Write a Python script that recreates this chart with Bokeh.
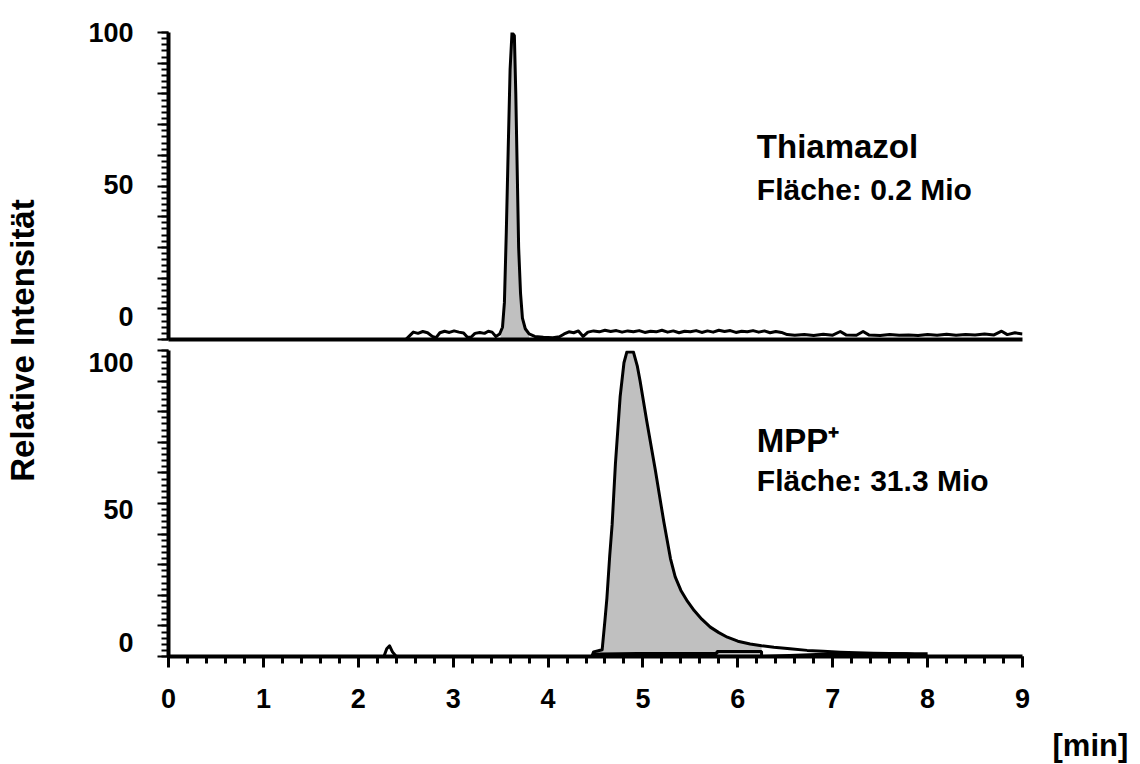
import numpy as np
from bokeh.plotting import figure
from bokeh.models import Range1d, FixedTicker, Label, LinearAxis
from bokeh.layouts import row, column
from bokeh.embed import file_html
from bokeh.resources import INLINE

# ---------------- data ----------------
x_tick_values = [0, 1, 2, 3, 4, 5, 6, 7, 8, 9]
x_minor_values = [round(0.2 * i, 1) for i in range(46)]
y_tick_values = [0, 10, 20, 30, 40, 50, 60, 70, 80, 90, 100]
y_minor_values = list(range(0, 101, 2))
y_label_values = [0, 50, 100]

# Thiamazol trace (top panel) : retention time [min], relative intensity [%]
thia_time = [2.50, 2.54, 2.58, 2.63, 2.68, 2.73, 2.78, 2.82, 2.86, 2.91, 2.96, 3.01, 3.06, 3.11,
             3.15, 3.19, 3.23, 3.28, 3.33, 3.37, 3.41, 3.45, 3.49, 3.52, 3.54, 3.56, 3.58, 3.60,
             3.62, 3.645, 3.66, 3.675, 3.69, 3.71, 3.73, 3.76, 3.80, 3.86, 3.95, 4.05, 4.12, 4.17,
             4.22, 4.27, 4.32, 4.37, 4.42, 4.48, 4.54, 4.60, 4.66, 4.72, 4.78, 4.84, 4.90, 4.96,
             5.02, 5.08, 5.14, 5.20, 5.26, 5.32, 5.38, 5.44, 5.50, 5.56, 5.62, 5.68, 5.74, 5.80,
             5.86, 5.92, 5.98, 6.04, 6.10, 6.16, 6.22, 6.28, 6.34, 6.40, 6.46, 6.52, 6.60, 6.70,
             6.80, 6.90, 7.00, 7.08, 7.14, 7.25, 7.32, 7.38, 7.50, 7.60, 7.70, 7.80, 7.90, 8.00,
             8.10, 8.20, 8.30, 8.40, 8.50, 8.60, 8.70, 8.78, 8.84, 8.92, 9.00]
thia_int = [0.0, 1.2, 2.4, 2.0, 2.6, 2.2, 1.0, 0.6, 2.2, 2.7, 2.3, 2.8, 2.4, 2.1,
            0.7, 0.8, 2.0, 2.3, 2.0, 2.7, 2.4, 1.0, 1.8, 4.0, 12.0, 35.0, 62.0, 88.0,
            100.0, 99.0, 80.0, 55.0, 30.0, 15.0, 7.0, 3.5, 1.8, 1.0, 0.7, 0.6, 0.9, 1.8,
            2.5, 2.2, 2.8, 1.0, 2.4, 2.8, 2.5, 3.0, 2.6, 2.9, 2.4, 2.8, 2.5, 2.9,
            2.3, 2.7, 2.5, 3.0, 2.4, 2.8, 2.2, 2.7, 2.5, 2.9, 2.3, 2.8, 2.4, 3.0,
            2.6, 2.9, 2.3, 2.7, 2.5, 2.9, 2.4, 2.8, 2.2, 2.6, 2.3, 1.6, 1.4, 1.6,
            1.3, 1.7, 1.4, 2.6, 1.5, 1.4, 2.6, 1.5, 1.3, 1.6, 1.4, 1.5, 1.3, 1.6,
            1.4, 1.7, 1.4, 1.6, 1.5, 1.8, 1.5, 2.7, 1.6, 2.2, 1.8]
thia_window = [3.50, 3.80]

# MPP+ trace (bottom panel)
mpp_time = [0.00, 2.27, 2.30, 2.33, 2.36, 2.40, 4.46, 4.48, 4.52, 4.57, 4.60, 4.62, 4.65, 4.675,
            4.71, 4.76, 4.80, 4.83, 4.90, 4.94, 4.97, 5.04, 5.13, 5.22, 5.29, 5.34, 5.40, 5.47,
            5.54, 5.62, 5.71, 5.80, 5.89, 6.00, 6.13, 6.25, 6.38, 6.55, 6.73, 6.90, 7.08, 7.25,
            7.43, 7.60, 7.78, 7.95, 8.00]
mpp_int = [0.0, 0.0, 2.5, 3.5, 1.5, 0.0, 0.0, 1.5, 1.8, 2.2, 12.0, 19.0, 33.0, 43.0,
           63.0, 85.0, 96.0, 99.5, 99.5, 95.0, 90.0, 77.0, 61.0, 44.0, 32.0, 26.0, 21.6, 18.0,
           15.0, 12.2, 9.6, 7.8, 6.3, 5.0, 4.1, 3.5, 3.0, 2.5, 2.0, 1.7, 1.4, 1.2,
           1.1, 1.0, 0.9, 0.4, 0.0]
mpp_window = [4.55, 6.25]
# integration baseline marks of the MPP+ peak
mpp_base_time = [4.48, 4.57, 4.94, 5.78, 5.78, 6.25, 6.25, 6.90, 7.20, 8.00]
mpp_base_int = [0.8, 0.8, 1.0, 1.0, 1.6, 1.6, 0.0, 0.7, 0.9, 0.9]

# ---------------- style / layout ----------------
FONT = "Liberation Sans"
FILL = "#c0c0c0"
LABEL_W = 45
RIGHT_W = 98
MAIN_W = 1140 - LABEL_W - RIGHT_W
TOP_H, TOP_BT, TOP_BB = 345, 32, 6
BOT_H, BOT_BT, BOT_BB = 419, 5, 108
# vertical pixel nudges of the y tick labels (as printed in the source figure)
TOP_LABEL_NUDGE = [23, 2, 0]
BOT_LABEL_NUDGE = [14, -6, -12]


def window_area(t, v, win):
    t = np.asarray(t)
    v = np.asarray(v)
    inside = (t > win[0]) & (t < win[1])
    xs = np.concatenate([[win[0]], t[inside], [win[1]]])
    ys = np.interp(xs, t, v)
    return xs, ys


def style_yaxis(p):
    ax = p.yaxis[0]
    ax.ticker = FixedTicker(ticks=y_tick_values, minor_ticks=y_minor_values)
    ax.axis_line_width = 4
    ax.axis_line_color = "black"
    ax.major_tick_line_width = 2
    ax.minor_tick_line_width = 2
    ax.major_tick_line_color = "black"
    ax.minor_tick_line_color = "black"
    ax.major_tick_out = 11
    ax.major_tick_in = 0
    ax.minor_tick_out = 7
    ax.minor_tick_in = 0
    ax.major_label_text_font_size = "1px"
    ax.major_label_text_color = None
    ax.major_label_standoff = 0


def add_label_axis(p, nudges, frame_h):
    pos = [round(v + d * 100.0 / frame_h, 2) for v, d in zip(y_label_values, nudges)]
    ax = LinearAxis(ticker=FixedTicker(ticks=pos, minor_ticks=[]),
                    major_label_overrides={pv: str(v) for pv, v in zip(pos, y_label_values)})
    ax.axis_line_color = None
    ax.major_tick_line_color = None
    ax.minor_tick_line_color = None
    ax.major_tick_out = 0
    ax.major_tick_in = 0
    ax.minor_tick_out = 0
    ax.minor_tick_in = 0
    ax.major_label_standoff = 24
    ax.major_label_text_font = FONT
    ax.major_label_text_font_size = "27px"
    ax.major_label_text_font_style = "bold"
    ax.major_label_text_color = "black"
    p.add_layout(ax, "left")


def base_fig(height, top_border, bottom_border):
    p = figure(width=MAIN_W, height=height, x_range=Range1d(0, 9), y_range=Range1d(0, 100),
               output_backend="svg", toolbar_location=None,
               min_border_left=123, min_border_right=MAIN_W - 123 - 854,
               min_border_top=top_border, min_border_bottom=bottom_border)
    p.grid.visible = False
    p.outline_line_color = None
    p.background_fill_color = "white"
    p.border_fill_color = "white"
    style_yaxis(p)
    return p


def add_text(p, x, y, text, size):
    p.add_layout(Label(x=x, y=y, text=text, text_font=FONT, text_font_size=size,
                       text_font_style="bold", text_baseline="alphabetic", text_align="left",
                       text_color="black"))


def blank_strip(width):
    s = figure(width=width, height=764, x_range=Range1d(0, width), y_range=Range1d(0, 764),
               output_backend="svg", toolbar_location=None, min_border=0)
    s.axis.visible = False
    s.grid.visible = False
    s.outline_line_color = None
    return s


# ---------------- top panel ----------------
top = base_fig(TOP_H, TOP_BT, TOP_BB)
tx = top.xaxis[0]
tx.ticker = FixedTicker(ticks=[])
tx.axis_line_width = 4
tx.axis_line_color = "black"
tx.major_tick_out = 0
tx.minor_tick_out = 0
tx.major_label_standoff = 0
tx.major_label_text_font_size = "1px"
tx.major_label_text_color = None
add_label_axis(top, TOP_LABEL_NUDGE, TOP_H - TOP_BT - TOP_BB)

xs, ys = window_area(thia_time, thia_int, thia_window)
top.varea(x=xs, y1=0, y2=ys, fill_color=FILL)
top.line(thia_time, thia_int, line_color="black", line_width=3, line_join="round")
add_text(top, 6.2, 63, "Thiamazol", "33px")
add_text(top, 6.2, 49, "Fläche: 0.2 Mio", "30px")

# ---------------- bottom panel ----------------
bot = base_fig(BOT_H, BOT_BT, BOT_BB)
bx = bot.xaxis[0]
bx.ticker = FixedTicker(ticks=x_tick_values, minor_ticks=x_minor_values)
bx.axis_line_width = 4
bx.axis_line_color = "black"
bx.major_tick_line_width = 3
bx.minor_tick_line_width = 3
bx.major_tick_line_color = "black"
bx.minor_tick_line_color = "black"
bx.major_tick_out = 11
bx.major_tick_in = 0
bx.minor_tick_out = 7
bx.minor_tick_in = 0
bx.major_label_standoff = 21
bx.major_label_text_font = FONT
bx.major_label_text_font_size = "27px"
bx.major_label_text_font_style = "bold"
bx.major_label_text_color = "black"
add_label_axis(bot, BOT_LABEL_NUDGE, BOT_H - BOT_BT - BOT_BB)

xs, ys = window_area(mpp_time, mpp_int, mpp_window)
bot.varea(x=xs, y1=0, y2=ys, fill_color=FILL)
bot.line(mpp_base_time, mpp_base_int, line_color="black", line_width=3)
bot.line(mpp_time, mpp_int, line_color="black", line_width=3, line_join="round")
add_text(bot, 6.2, 70.5, "MPP⁺", "33px")
add_text(bot, 6.2, 57.6, "Fläche: 31.3 Mio", "30px")

# ---------------- side strips (axis titles) ----------------
lab = blank_strip(LABEL_W)
lab.add_layout(Label(x=22, y=424, text="Relative Intensität", angle=np.pi / 2,
                     text_font=FONT, text_font_size="33px", text_font_style="bold",
                     text_align="center", text_baseline="middle", text_color="black"))

unit = blank_strip(RIGHT_W)
unit.add_layout(Label(x=10, y=19, text="[min]", text_font=FONT, text_font_size="31px",
                      text_font_style="bold", text_baseline="middle", text_align="left",
                      text_color="black"))

layout = row(lab, column(top, bot, spacing=0), unit, spacing=0)
open("out.html", "w").write(file_html(layout, INLINE))
